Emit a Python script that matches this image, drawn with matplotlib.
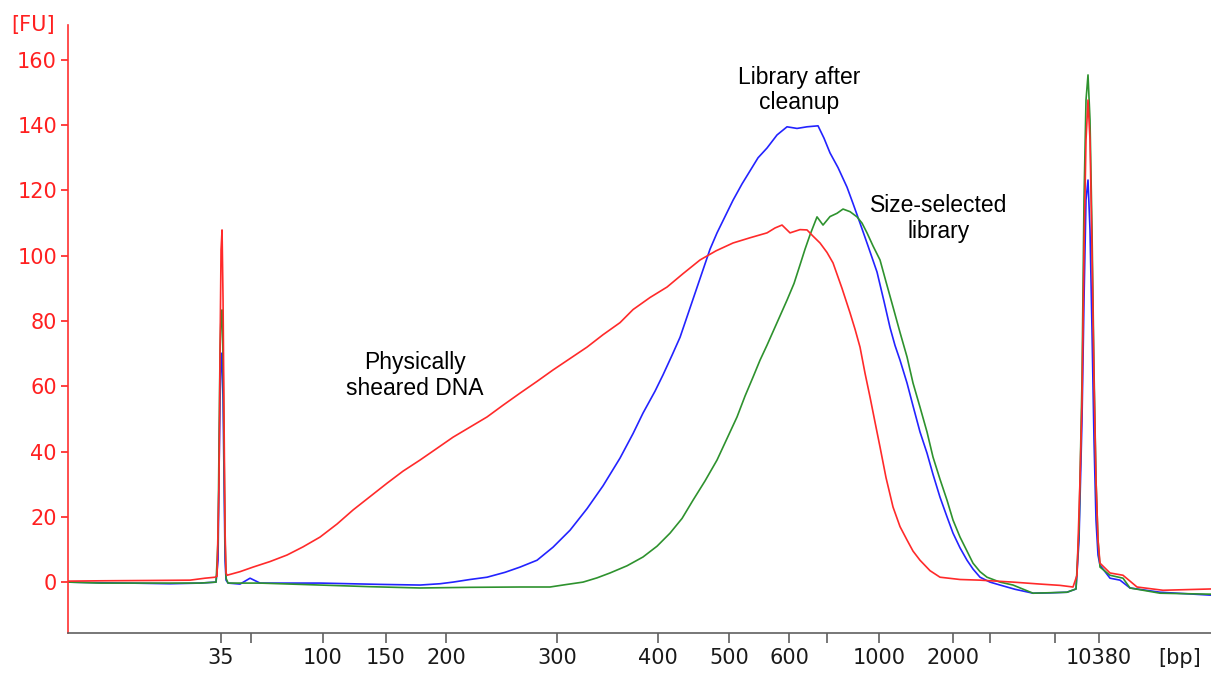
import numpy as np
import matplotlib
matplotlib.use("Agg")
import matplotlib.pyplot as plt

# migration time (s) and fluorescence (FU)
redTime = [6.8, 10.0, 15.0, 19.0, 20.5, 21.5, 21.7, 21.9, 22.0, 22.1, 22.2, 22.3, 22.4, 22.5, 22.6, 22.7,
           24.0, 25.3, 27.0, 28.7, 30.3, 32.0, 33.7, 35.3, 37.0, 38.7, 40.3, 42.0, 43.7, 45.3, 47.0,
           48.7, 50.3, 52.0, 53.7, 55.3, 57.0, 58.7, 60.3, 62.0, 63.3, 65.0, 66.7, 68.3, 70.0, 71.6,
           73.3, 75.0, 76.7, 77.5, 78.2, 79.0, 80.0, 80.7, 81.3, 82.0, 82.7, 83.3, 84.2, 85.0, 85.5,
           86.0, 86.5, 87.0, 87.5, 88.0, 88.6, 89.3, 90.0, 90.7, 91.3, 92.0, 93.0, 94.0, 96.0, 98.0,
           101.3, 104.0, 106.0, 107.3, 107.7, 108.0, 108.2, 108.4, 108.6, 108.8, 109.0, 109.2, 109.4,
           109.6, 109.8, 110.0, 111.0, 112.3, 113.7, 116.3, 121.1]
redFU = [0.3, 0.4, 0.5, 0.6, 1.2, 1.5, 1.8, 31.3, 71.1, 101.8, 107.9, 86.4, 49.7, 15.9, 2.8, 2.1,
         3.2, 4.6, 6.3, 8.3, 10.8, 13.8, 17.8, 22.1, 26.2, 30.3, 34.0, 37.4, 41.0, 44.4, 47.5,
         50.6, 54.2, 57.9, 61.5, 65.0, 68.5, 72.0, 75.8, 79.5, 83.5, 87.2, 90.4, 94.5, 98.7, 101.5,
         103.9, 105.5, 107.0, 108.5, 109.4, 107.0, 108.0, 107.9, 106.0, 103.9, 101.0, 97.8, 90.0, 82.5, 77.5,
         72.0, 64.0, 56.7, 49.0, 41.4, 32.0, 23.0, 17.0, 12.9, 9.5, 6.7, 3.5, 1.5, 0.8, 0.6,
         0.0, -0.6, -1.0, -1.5, 2.1, 31.3, 55.8, 101.8, 135.5, 147.7, 135.5, 101.8, 61.9,
         31.3, 12.9, 5.8, 2.8, 2.1, -1.5, -2.5, -2.1]

blueTime = [6.8, 10.0, 13.0, 17.0, 20.0, 21.6, 21.8, 21.9, 22.0, 22.1, 22.2, 22.3, 22.4, 22.5, 22.6, 22.8,
            24.0, 25.0, 26.0, 32.0, 35.0, 38.0, 42.0, 44.0, 45.3, 47.0, 48.7, 50.5, 52.0, 53.7, 55.3,
            57.0, 58.7, 60.3, 62.0, 63.3, 64.3, 65.5, 66.3, 67.2, 68.0, 69.0, 70.0, 71.0, 71.7, 72.5,
            73.3, 74.2, 75.0, 75.8, 76.7, 77.7, 78.7, 79.7, 80.7, 81.8, 82.4, 83.0, 83.8, 84.7, 85.3,
            86.0, 86.8, 87.7, 88.4, 89.0, 89.5, 90.0, 90.7, 91.3, 92.0, 92.7, 93.3, 94.0, 94.7, 95.3,
            96.0, 96.7, 97.3, 98.0, 99.0, 100.0, 101.5, 103.3, 105.0, 106.7, 107.6, 107.9, 108.2, 108.4,
            108.6, 108.8, 109.0, 109.2, 109.4, 109.6, 109.8, 110.0, 111.0, 112.0, 113.0, 116.0, 121.1]
blueFU = [0.0, -0.2, -0.3, -0.5, -0.3, 0.0, 6.7, 34.3, 55.8, 68.0, 70.2, 55.8, 31.3, 6.7, 0.6, -0.3,
          -0.6, 1.2, -0.3, -0.3, -0.5, -0.7, -0.9, -0.5, 0.0, 0.8, 1.5, 3.0, 4.6, 6.7, 10.7,
          15.9, 22.5, 29.5, 38.0, 45.5, 51.8, 58.5, 63.5, 69.5, 75.0, 84.0, 93.0, 102.0, 107.0, 112.0,
          117.0, 122.0, 126.0, 130.0, 133.0, 137.0, 139.5, 139.0, 139.5, 139.8, 136.0, 131.5, 127.0, 121.0, 116.0,
          110.0, 103.0, 95.0, 86.0, 78.0, 72.5, 68.0, 61.0, 54.0, 46.0, 39.5, 33.0, 26.0, 20.0, 15.0,
          10.5, 6.7, 4.0, 1.5, 0.0, -0.9, -2.2, -3.4, -3.3, -3.1, -2.1, 12.9, 49.7, 86.4,
          117.1, 123.2, 107.9, 77.2, 43.5, 19.0, 8.3, 5.2, 1.2, 0.6, -1.8, -3.1, -4.0]

greenTime = [6.8, 10.0, 15.0, 20.0, 21.6, 21.8, 21.9, 22.0, 22.1, 22.2, 22.3, 22.4, 22.5, 22.6, 22.8,
             26.0, 32.0, 37.0, 42.0, 47.0, 52.0, 55.0, 56.5, 58.3, 59.7, 61.0, 62.7, 64.3, 65.7, 67.0,
             68.2, 69.3, 70.5, 71.7, 72.7, 73.7, 74.5, 75.3, 76.0, 76.7, 77.7, 78.7, 79.4, 80.0, 80.5,
             81.0, 81.7, 82.3, 83.0, 83.7, 84.3, 85.0, 85.7, 86.2, 86.7, 87.3, 88.0, 88.6, 89.3, 90.0,
             90.7, 91.3, 92.0, 92.7, 93.3, 94.0, 94.7, 95.3, 96.0, 96.7, 97.3, 98.0, 98.7, 100.0, 101.3,
             103.3, 106.7, 107.6, 107.9, 108.2, 108.4, 108.6, 108.8, 109.0, 109.2, 109.4,
             109.6, 109.8, 110.0, 111.0, 112.3, 113.0, 116.0, 121.1]
greenFU = [0.0, -0.3, -0.3, -0.3, 0.0, 12.9, 43.5, 71.1, 81.8, 83.4, 68.0, 40.5, 12.9, 1.2, -0.3,
           -0.3, -0.9, -1.4, -1.8, -1.6, -1.5, -1.5, -0.8, 0.0, 1.3, 2.8, 5.0, 7.7, 11.0, 15.0,
           19.5, 25.1, 31.0, 37.4, 44.0, 50.6, 57.0, 62.8, 68.0, 72.6, 79.5, 86.4, 91.5, 97.2, 102.0,
           106.4, 111.9, 109.4, 112.0, 113.0, 114.3, 113.5, 111.9, 110.0, 107.0, 103.0, 98.7, 92.0, 84.3, 76.5,
           69.0, 61.0, 53.6, 46.0, 38.3, 31.5, 25.1, 19.0, 13.8, 9.5, 5.8, 3.2, 1.5, 0.0, -0.9,
           -3.4, -3.1, -2.1, 15.9, 61.9, 117.1, 147.7, 155.4, 141.6, 107.9, 65.0,
           31.3, 12.9, 4.6, 2.1, 1.2, -1.8, -3.4, -3.7]

# ladder: size labels and where they sit on the time axis
ladderTime = [22.1, 32.3, 38.6, 44.6, 55.7, 65.8, 72.9, 78.9, 87.9, 95.3, 109.9]
ladderLabels = ['35', '100', '150', '200', '300', '400', '500', '600', '1000', '2000', '10380']
blankTickTime = [25.1, 82.7, 99.0, 105.5]

fuTicks = [0, 20, 40, 60, 80, 100, 120, 140, 160]

fig = plt.figure(figsize=(12.11, 6.73), dpi=100)
ax = fig.add_axes([0.0562, 0.0594, 0.9438, 0.9035])

ax.plot(blueTime, blueFU, color='#2323ff', lw=1.2)
ax.plot(greenTime, greenFU, color='#2e922e', lw=1.2)
ax.plot(redTime, redFU, color='#ff2a2a', lw=1.2)

ax.set_xlim(6.8, 121.1)
ax.set_ylim(-15.6, 170.7)

ax.spines['top'].set_visible(False)
ax.spines['right'].set_visible(False)
ax.spines['left'].set_color('#ff3030')
ax.spines['bottom'].set_color('#606060')
ax.spines['left'].set_linewidth(1.2)
ax.spines['bottom'].set_linewidth(1.2)

ax.set_yticks(fuTicks)
ax.tick_params(axis='y', colors='#ff2020', labelsize=15, length=5, width=1.2, pad=3)
ax.set_xticks(ladderTime + blankTickTime)
ax.set_xticklabels(ladderLabels + [''] * len(blankTickTime))
ax.tick_params(axis='x', colors='#606060', labelcolor='#1a1a1a', labelsize=15, length=7, width=1.2, pad=4)

ax.annotate('[bp]', xy=(118.0, 0), xycoords=('data', 'axes fraction'), xytext=(0, -11),
            textcoords='offset points', ha='center', va='top', fontsize=15, color='#1a1a1a')

fig.text(33 / 1211, 1 - 25 / 673, '[FU]', color='#ff2020', fontsize=15, ha='center', va='center')

noteFont = dict(family='Liberation Sans', fontsize=16.5, color='black', ha='center', va='center',
                linespacing=1.15)
ax.text(79.9, 150.8, 'Library after\ncleanup', **noteFont)
ax.text(93.9, 111.3, 'Size-selected\nlibrary', **noteFont)
ax.text(41.5, 63.4, 'Physically\nsheared DNA', **noteFont)

fig.savefig('out.png', dpi=100)
